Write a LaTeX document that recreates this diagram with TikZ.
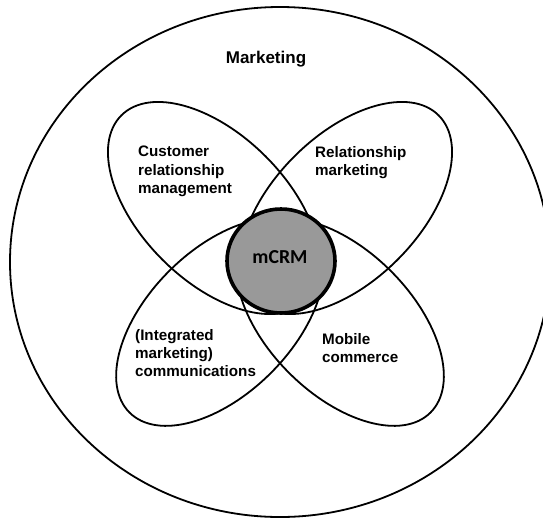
\documentclass[tikz,border=0pt]{standalone}
\usepackage{fontspec}
\setmainfont{Liberation Sans}
\newfontfamily\corefont{Carlito}
\usepackage{xcolor}
\usepackage{tikz}

\definecolor{coregray}{RGB}{153,153,153}

\begin{document}
\begin{tikzpicture}[x=1pt,y=-1pt,
		ring/.style={line width=1.8pt},
		areatext/.style={anchor=north west,inner sep=0pt,align=left,font=\fontsize{15.2}{18.2}\selectfont\bfseries}]
				\useasboundingbox (0,0) rectangle (543,520);
				\clip (0,0) rectangle (543,520);
				\fill[white] (0,0) rectangle (543,520);

				\draw[ring] (280,262) ellipse [x radius=270, y radius=255];
				\node[anchor=base,inner sep=0pt,font=\fontsize{17}{20}\selectfont\bfseries] (marketing) at (266,63) {Marketing};

				\coordinate (crm) at (214,208);
				\coordinate (rm) at (346,208);
				\coordinate (imc) at (220,322);
				\coordinate (mc) at (340,322);
				\draw[ring,rotate around={-45:(crm)}] (crm) ellipse [x radius=131, y radius=73];
				\draw[ring,rotate around={45:(rm)}] (rm) ellipse [x radius=131, y radius=73];
				\draw[ring,rotate around={45:(imc)}] (imc) ellipse [x radius=128, y radius=72];
				\draw[ring,rotate around={-45:(mc)}] (mc) ellipse [x radius=128, y radius=72];

				\node[areatext] (crmtext) at (138,146) {Customer\\relationship\\management};
				\node[areatext] (rmtext) at (315,146) {Relationship\\marketing};
				\node[areatext] (imctext) at (135,329) {(Integrated\\marketing)\\communications};
				\node[areatext] (mctext) at (322,333) {Mobile\\commerce};

				\filldraw[fill=coregray,line width=3.6pt] (281,261) ellipse [x radius=54, y radius=52];
				\node[inner sep=0pt,font=\corefont\bfseries\fontsize{19.8}{22}\selectfont] (core) at (280,257) {mCRM};
			\end{tikzpicture}
\end{document}
